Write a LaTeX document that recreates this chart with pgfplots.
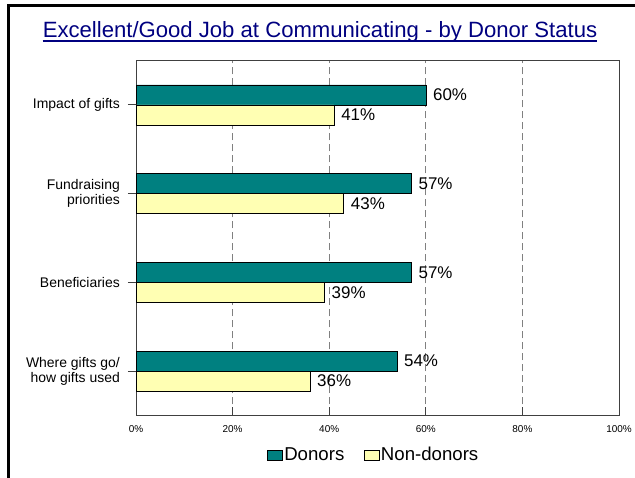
\documentclass[border=0pt]{standalone}
\usepackage{fontspec}
\setmainfont{Liberation Sans}
\usepackage{pgfplots}
\pgfplotsset{compat=1.18}

\definecolor{donor}{HTML}{008080}
\definecolor{nondonor}{HTML}{FFFFB3}
\definecolor{titleblue}{HTML}{000080}
\definecolor{gridgray}{HTML}{808080}

\begin{document}
\begin{tikzpicture}
\path[use as bounding box] (0,0) rectangle (635bp,478bp);
% frame
\draw[line width=3bp] (8.5bp,0) -- (8.5bp,472.5bp) -- (635bp,472.5bp);
% title, underlined
\node[text=titleblue, font=\fontsize{22.2}{27}\selectfont, anchor=base, inner sep=0pt]
  (title) at (320bp,440bp) {Excellent/Good Job at Communicating - by Donor Status};
\draw[titleblue, line width=1.8bp] ([yshift=-2.8bp]title.base west) -- ([yshift=-2.8bp]title.base east);

\begin{axis}[
    at={(136bp,62.5bp)}, anchor=south west,
    scale only axis, width=483bp, height=355bp,
    xbar, bar width=20bp,
    xmin=0, xmax=100, ymin=0.5, ymax=4.5,
    xtick={0,20,40,60,80,100},
    xticklabel={\pgfmathprintnumber{\tick}\%},
    ytick={1,2,3,4},
    yticklabels={{Where gifts go/\\how gifts used},Beneficiaries,{Fundraising\\priorities},Impact of gifts},
    xtick pos=bottom, ytick pos=left,
    tick align=inside,
    major tick length=8bp,
    ytick style={xshift=-8bp},
    tick style={black!75, line width=0.8bp},
    axis line style={black!75, line width=1bp},
    xmajorgrids,
    major x grid style={gridgray, line width=1bp, dash pattern=on 7bp off 4bp},
    /pgf/number format/assume math mode=true,
    xticklabel style={font=\fontsize{10}{12}\selectfont, inner sep=0pt, yshift=-10bp},
    yticklabel style={font=\fontsize{14}{15}\selectfont, align=right, inner sep=0pt, xshift=-16bp},
    point meta=x,
    nodes near coords={\pgfmathprintnumber{\pgfplotspointmeta}\%},
    nodes near coords style={font=\fontsize{17}{20}\selectfont, anchor=west, inner sep=0pt, xshift=7bp, text=black},
    legend style={at={(axis description cs:0.4917,-0.111)}, anchor=center, draw=none, fill=none,
        font=\fontsize{18.7}{22}\selectfont, nodes={inner sep=1.5bp},
        /tikz/every even column/.append style={column sep=18bp}},
    legend columns=2,
    legend image code/.code={\draw[#1] (0bp,-5bp) rectangle (15bp,5bp);},
]
\addplot[fill=donor, draw=black, line width=0.6bp, bar shift=10bp]
    coordinates {(54,1) (57,2) (57,3) (60,4)};
\addplot[fill=nondonor, draw=black, line width=0.6bp, bar shift=-10bp]
    coordinates {(36,1) (39,2) (43,3) (41,4)};
\legend{Donors,Non-donors}
\end{axis}
\end{tikzpicture}
\end{document}
